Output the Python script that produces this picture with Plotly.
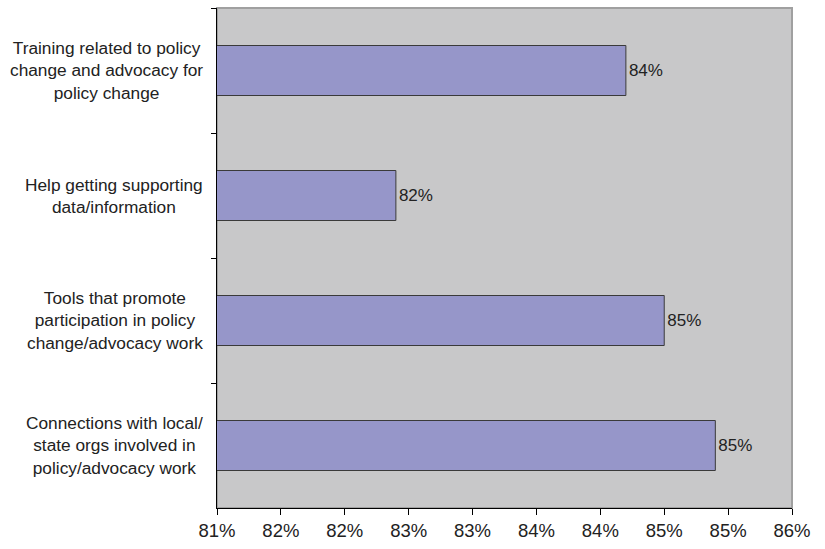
import plotly.graph_objects as go

# Survey items (top to bottom) and share of respondents, in percent
categories = [
    "Training related to policy<br>change and advocacy for<br>policy change",
    "Help getting supporting<br>data/information",
    "Tools that promote<br>participation in policy<br>change/advocacy work",
    "Connections with local/<br>state orgs involved in<br>policy/advocacy work",
]
values = [84.2, 82.4, 84.5, 84.9]

x_min, x_max, x_step = 81.0, 85.5, 0.5

FONT = "Liberation Sans, Arial, sans-serif"
TEXT_COLOR = "#222222"

fig = go.Figure(
    go.Bar(
        x=values,
        y=categories,
        orientation="h",
        width=0.4,
        marker=dict(color="#9696c9", line=dict(color="#3a3a3a", width=1)),
        text=values,
        texttemplate="%{x:.0f}%",
        textposition="outside",
        constraintext="none",
        cliponaxis=False,
        textfont=dict(family=FONT, size=17, color=TEXT_COLOR),
        hoverinfo="skip",
    )
)

# Category labels as centred multi-line annotations left of the axis
for cat in categories:
    fig.add_annotation(
        x=0, xref="paper", y=cat, yref="y",
        text=cat, showarrow=False,
        xanchor="right", yanchor="middle", xshift=-12,
        align="center",
        font=dict(family=FONT, size=17.3, color=TEXT_COLOR),
    )

# Light frame around the plotting area
fig.add_shape(
    type="rect", xref="paper", yref="paper", x0=0, x1=1, y0=0, y1=1,
    line=dict(color="#a0a0a0", width=2), layer="below",
)

fig.update_layout(
    width=825, height=549,
    margin=dict(l=217, r=33, t=8, b=38),
    paper_bgcolor="white",
    plot_bgcolor="#c8c8c9",
    showlegend=False,
    bargap=0.6,
    font=dict(family=FONT, size=17, color=TEXT_COLOR),
    xaxis=dict(
        range=[x_min, x_max],
        tick0=x_min, dtick=x_step,
        tickformat=".0f", ticksuffix="%",
        showgrid=False, zeroline=False,
        showline=True, linecolor="black", linewidth=1,
        ticks="outside", ticklen=6, tickcolor="black",
        tickfont=dict(family=FONT, size=18.5, color=TEXT_COLOR),
    ),
    yaxis=dict(
        type="category",
        categoryorder="array", categoryarray=categories,
        autorange="reversed",
        showticklabels=False,
        showgrid=False, zeroline=False,
        showline=True, linecolor="black", linewidth=1,
        ticks="outside", ticklen=5, tickcolor="black",
        tickson="boundaries",
    ),
)

fig.write_html("out.html")
